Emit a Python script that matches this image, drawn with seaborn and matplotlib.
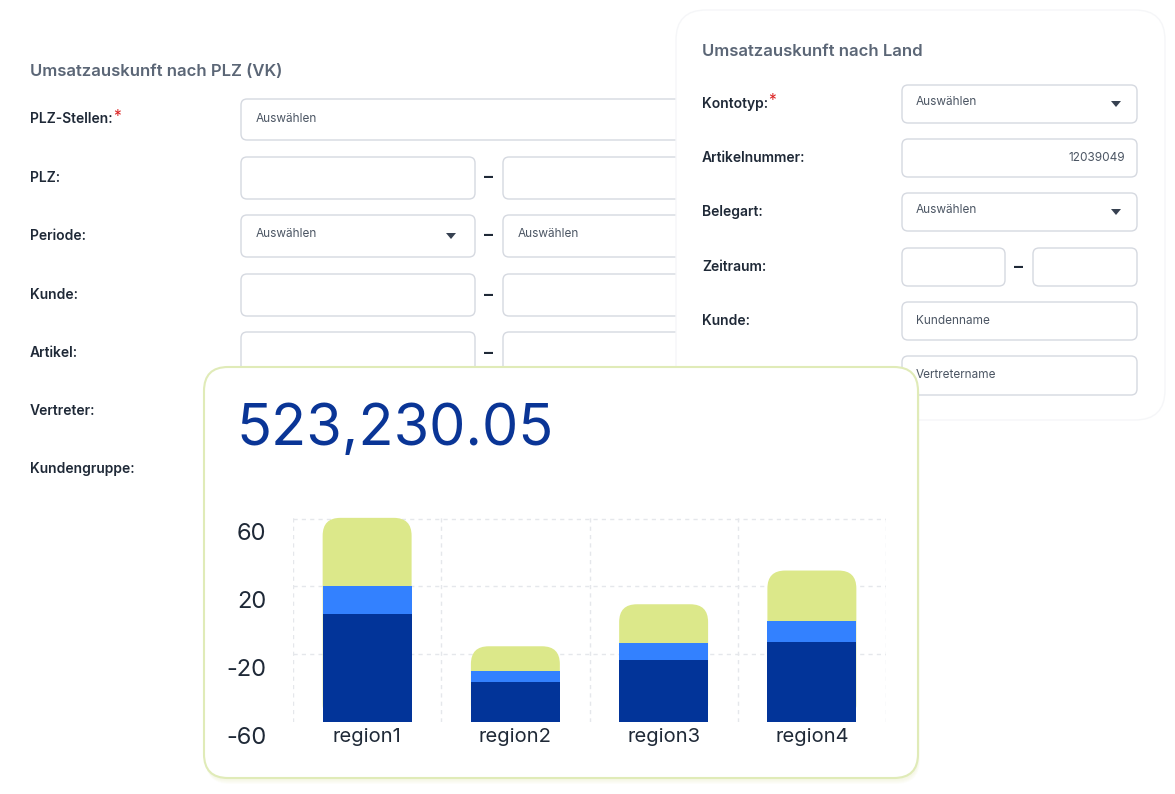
import matplotlib
matplotlib.use("Agg")
import matplotlib.pyplot as plt
import seaborn as sns
import pandas as pd
import numpy as np
from matplotlib.patches import FancyBboxPatch, Polygon
import matplotlib.transforms as mtransforms

regions = ["region1", "region2", "region3", "region4"]
seg_dark = [63.5, 23.5, 36.5, 47.0]
seg_blue = [17.0, 6.5, 10.0, 12.4]
seg_green = [40.0, 14.7, 23.0, 30.0]
y_ticks = [60, 20, -20, -60]
y_tick_labels = ["60", "20", "-20", "-60"]
total_label = "523,230.05"

left_title = "Umsatzauskunft nach PLZ (VK)"
left_labels = ["PLZ-Stellen:", "PLZ:", "Periode:", "Kunde:", "Artikel:", "Vertreter:", "Kundengruppe:"]
right_title = "Umsatzauskunft nach Land"
right_labels = ["Kontotyp:", "Artikelnummer:", "Belegart:", "Zeitraum:", "Kunde:"]

sns.set_theme(style="white")
plt.rcParams['font.family'] = ['Inter', 'DejaVu Sans']

W, H = 1175, 794
fig = plt.figure(figsize=(W/100, H/100), dpi=100)
bg = fig.add_axes([0, 0, 1, 1])
bg.set_xlim(0, W); bg.set_ylim(H, 0); bg.axis("off")

LBL = "#1f2937"; BORD = "#d5d9e0"; TXT = "#4b5563"

def box(x0, y0, x1, y1, r=6, fc="white", ec=BORD, lw=1, z=1):
    bg.add_patch(FancyBboxPatch((x0, y0), x1-x0, y1-y0, boxstyle=f"round,pad=0,rounding_size={r}",
                                fc=fc, ec=ec, lw=lw, zorder=z))

def arrow(x, y, z):
    bg.add_patch(Polygon([[x-5, y-3], [x+5, y-3], [x, y+3]], closed=True, fc="#374151", ec="none", zorder=z))

# left form
bg.text(30, 71, left_title, fontsize=12, color="#5b6676", fontweight="semibold", va="center", zorder=2)
rows = [119, 178, 236, 295, 353, 411, 469]
for i, (lab, y) in enumerate(zip(left_labels, rows)):
    t = bg.text(30, y, lab, fontsize=10, color=LBL, fontweight="semibold", va="center", zorder=2)
    if i == 0:
        bg.text(113, y-3, "*", fontsize=11, color="#dc2626", va="center", zorder=2)
    if i == 0:
        box(241, y-20, 720, y+21, z=1)
        bg.text(256, y, "Auswählen", fontsize=8.5, color=TXT, va="center", zorder=2)
    elif i in (1, 2, 3, 4):
        box(241, y-21, 475, y+21, z=1)
        box(503, y-21, 720, y+21, z=1)
        bg.text(489, y, "–", fontsize=13, color=LBL, fontweight="bold", ha="center", va="center", zorder=2)
        if i == 2:
            bg.text(256, y-2, "Auswählen", fontsize=8.5, color=TXT, va="center", zorder=2)
            bg.text(518, y-2, "Auswählen", fontsize=8.5, color=TXT, va="center", zorder=2)
            arrow(451, y, 2)

# right panel
box(676, 10, 1165, 420, r=30, fc="white", ec="#f5f6f8", lw=1, z=3)
bg.text(702, 51, right_title, fontsize=12, color="#5b6676", fontweight="semibold", va="center", zorder=4)
rrows = [104, 158, 212, 267, 321]
for i, (lab, y) in enumerate(zip(right_labels, rrows)):
    bg.text(702, y, lab, fontsize=10, color=LBL, fontweight="semibold", va="center", zorder=4)
    if i == 0:
        bg.text(768, y-3, "*", fontsize=11, color="#dc2626", va="center", zorder=4)
    if i == 3:
        box(902, y-19, 1005, y+19, z=4); box(1033, y-19, 1137, y+19, z=4)
        bg.text(1019, y, "–", fontsize=13, color=LBL, fontweight="bold", ha="center", va="center", zorder=4)
    else:
        box(902, y-19, 1137, y+19, z=4)
    if i in (0, 2):
        bg.text(916, y-2, "Auswählen", fontsize=8.5, color=TXT, va="center", zorder=5); arrow(1116, y, 5)
    if i == 1:
        bg.text(1125, y, "12039049", fontsize=8.5, color=TXT, ha="right", va="center", zorder=5)
    if i == 4:
        bg.text(916, y, "Kundenname", fontsize=8.5, color=TXT, va="center", zorder=5)
box(902, 356, 1137, 395, z=4)
bg.text(916, 375, "Vertretername", fontsize=8.5, color=TXT, va="center", zorder=5)

# chart card
for k in range(6, 0, -1):
    box(204+k*0.3, 367+k, 918+k*0.3, 778+k, r=24, fc=(0.85, 0.9, 0.6, 0.05), ec="none", lw=0, z=6)
box(204, 367, 918, 778, r=24, fc="white", ec="#e0ebb8", lw=1.5, z=7)
bg.text(236, 430, total_label, fontsize=41.5, color="#0a3596", va="center", zorder=8)

ax = fig.add_axes([293/W, 1-722/H, (886-293)/W, (722-517)/H])
ax.set_zorder(10); ax.patch.set_alpha(0)
df = pd.DataFrame({"region": regions, "dark": seg_dark, "blue": seg_blue, "green": seg_green})
base = -60
df["t1"] = base + df["dark"]
df["t2"] = df["t1"] + df["blue"]
df["t3"] = df["t2"] + df["green"]
colors = [("t3", "#dce88a"), ("t2", "#3381ff"), ("t1", "#023499")]
for col, c in colors:
    sns.barplot(data=df, x="region", y=col, color=c, width=0.6, ax=ax, saturation=1)
ax.set_ylim(-60, 61)
ax.set_xlim(-0.5, 3.5)
patches = list(ax.patches)
aspect = (121 / 205) / (4 / 593)
for idx, p in enumerate(patches):
    top = p.get_height()
    p.set_y(base); p.set_height(top - base); p.set_edgecolor("none")
    if idx < len(regions):
        p.set_visible(False)
        rp = FancyBboxPatch((p.get_x(), base), p.get_width(), top - base,
                            boxstyle="round,pad=0,rounding_size=0.12",
                            mutation_aspect=aspect, fc="#dce88a", ec="none", zorder=1)
        ax.add_patch(rp)
    else:
        p.set_zorder(2)
ax.set_yticks(y_ticks)
ax.set_yticklabels(y_tick_labels)
ax.set_xlabel(""); ax.set_ylabel("")
gl = dict(color="#e5e7eb", ls=(0, (3, 3)), lw=1, zorder=0)
for x in [-0.5, 0.5, 1.5, 2.5, 3.5]:
    ax.axvline(x, **gl)
for y in [60, 20, -20]:
    ax.axhline(y, **gl)
for s in ["top", "right", "left", "bottom"]:
    ax.spines[s].set_visible(False)
ax.tick_params(axis="y", labelsize=17, colors="#1f2937", length=0, pad=19)
ax.tick_params(axis="x", labelsize=14.5, colors="#1f2937", length=0, pad=4)
off = mtransforms.ScaledTranslation(0, -13/100, fig.dpi_scale_trans)
for lab in ax.get_yticklabels():
    lab.set_transform(lab.get_transform() + off)

fig.savefig("out.png", dpi=100)
